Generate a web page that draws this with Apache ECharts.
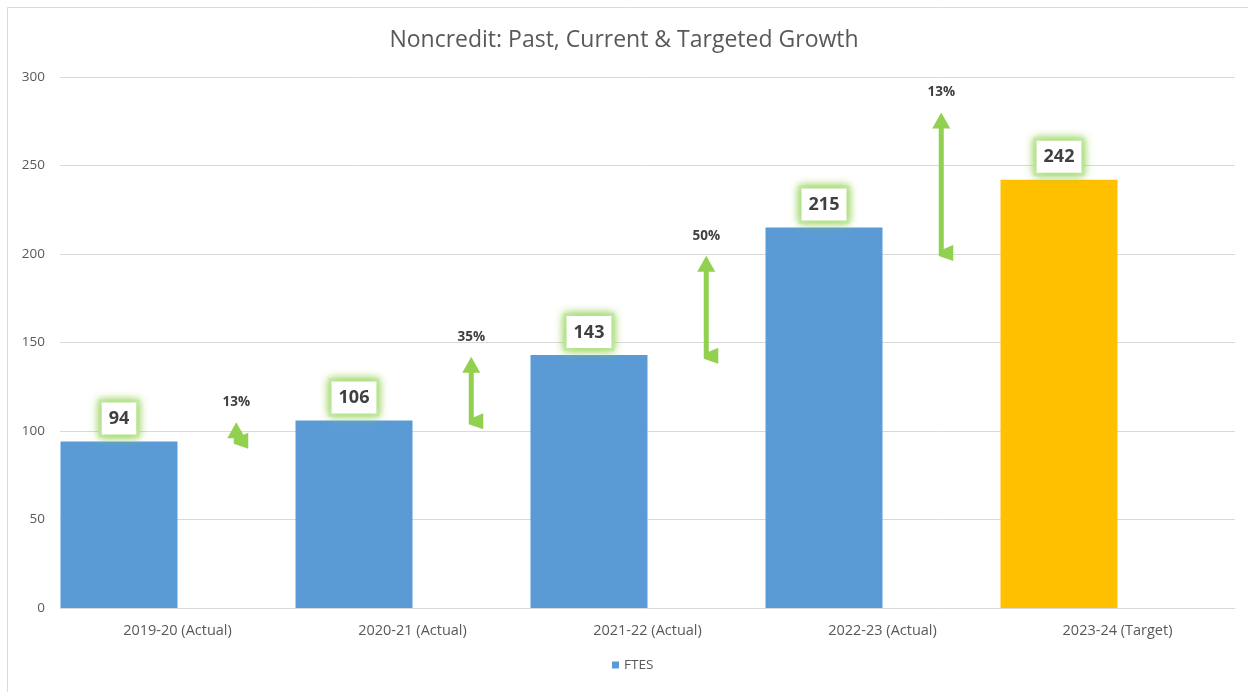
<!DOCTYPE html>
<html>
<head>
<meta charset="utf-8">
<script src="https://cdn.jsdelivr.net/npm/echarts@6/dist/echarts.min.js"></script>
<style>html,body{margin:0;padding:0;background:#fff;}#c{width:1248px;height:692px;}</style>
</head>
<body>
<div id="c"></div>
<script>
const categories = ['2019-20 (Actual)', '2020-21 (Actual)', '2021-22 (Actual)', '2022-23 (Actual)', '2023-24 (Target)'];
const ftes = [94, 106, 143, 215, 242];
const barColors = ['#5B9BD5', '#5B9BD5', '#5B9BD5', '#5B9BD5', '#FFC000'];
const arrowFrom = [90, 101, 138, 196];
const arrowTo = [105, 142, 199, 280];
const growthLabels = ['13%', '35%', '50%', '13%'];
const yTicks = { min: 0, max: 300, interval: 50 };

const FONT = 'Open Sans';
const chart = echarts.init(document.getElementById('c'));

const arrowData = arrowFrom.map((f, i) => [i, f, arrowTo[i]]);

chart.setOption({
  animation: false,
  backgroundColor: '#fff',
  textStyle: { fontFamily: FONT },
  title: {
    text: 'Noncredit: Past, Current & Targeted Growth',
    left: 'center', top: 24,
    textStyle: { fontFamily: FONT, fontSize: 23, fontWeight: 'normal', color: '#595959' }
  },
  graphic: [{
    type: 'rect', shape: { x: 7.5, y: 7.5, width: 1260, height: 700 },
    style: { fill: 'none', stroke: '#d9d9d9', lineWidth: 1 }, silent: true
  }],
  legend: {
    data: ['FTES'], bottom: 15, left: 607,
    icon: 'rect', itemWidth: 7, itemHeight: 7, itemGap: 4,
    textStyle: { fontFamily: FONT, fontSize: 13.5, color: '#595959' }
  },
  grid: { left: 60, right: 13, top: 77, bottom: 84, containLabel: false },
  xAxis: {
    type: 'category', data: categories,
    axisLine: { lineStyle: { color: '#d9d9d9' } },
    axisTick: { show: false },
    axisLabel: { fontFamily: FONT, fontSize: 14.5, color: '#595959', margin: 15 }
  },
  yAxis: {
    type: 'value', min: yTicks.min, max: yTicks.max, interval: yTicks.interval,
    axisLine: { show: false }, axisTick: { show: false },
    splitLine: { lineStyle: { color: '#d9d9d9' } },
    axisLabel: { fontFamily: FONT, fontSize: 13.5, color: '#595959', margin: 15 }
  },
  series: [
    {
      name: 'FTES', type: 'bar', barWidth: 117, barGap: '0%',
      data: ftes.map((v, i) => ({ value: v, itemStyle: { color: barColors[i] } })),
      itemStyle: { color: '#5B9BD5' },
      label: {
        show: true, position: 'top', distance: 7,
        fontFamily: FONT, fontSize: 18, fontWeight: 'bold', color: '#404040',
        backgroundColor: '#fff', borderColor: '#c8ecae', borderWidth: 3,
        shadowColor: 'rgba(146,208,80,0.95)', shadowBlur: 9,
        padding: [6, 7, 5, 7], lineHeight: 21
      }
    },
    {
      name: 'placeholder', type: 'bar', barWidth: 117, data: [],
      itemStyle: { color: 'transparent' }
    },
    {
      name: 'growth', type: 'custom', data: arrowData,
      encode: { x: 0, y: [1, 2] }, z: 5,
      renderItem: function (params, api) {
        const i = api.value(0);
        const p0 = api.coord([i, api.value(1)]);
        const p1 = api.coord([i, api.value(2)]);
        const off = api.size([1, 0])[0] / 4;
        const x = p0[0] + off, yb = p0[1], yt = p1[1];
        const pts = [
          [x, yt], [x + 9, yt + 16], [x + 2.5, yt + 16], [x + 2.5, yb - 12],
          [x + 12, yb - 16], [x + 12, yb], [x - 2.5, yb - 5],
          [x - 2.5, yt + 16], [x - 9, yt + 16]
        ];
        return {
          type: 'group',
          children: [
            { type: 'polygon', shape: { points: pts }, style: { fill: '#92D050' } },
            {
              type: 'text', x: x, y: yt - 20,
              style: {
                text: growthLabels[params.dataIndex], fill: '#404040',
                font: 'bold 13.5px "Open Sans"', align: 'center', verticalAlign: 'middle'
              }
            }
          ]
        };
      }
    }
  ]
});
</script>
</body>
</html>
